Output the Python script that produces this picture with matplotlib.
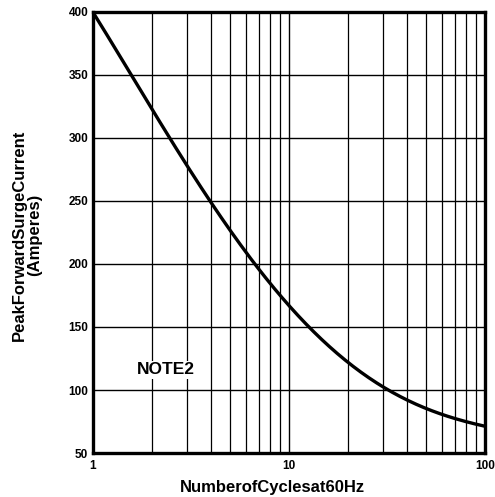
import numpy as np
import matplotlib.pyplot as plt

plt.rcParams['font.family'] = ['Liberation Sans', 'DejaVu Sans']
plt.rcParams['font.weight'] = 'bold'

# points
cycles = [1, 1.56, 2.44, 4.0, 6.7, 10, 12.1, 20, 32, 50, 100]
current = [400, 350, 300, 250, 200, 169, 150, 122, 100, 86, 71]

y_ticks = [50, 100, 150, 200, 250, 300, 350, 400]
x_ticks = [1, 10, 100]
x_tick_labels = ['1', '10', '100']

fig = plt.figure(figsize=(4.95, 4.97), dpi=100)
ax = fig.add_axes([0.188, 0.0885, 0.792, 0.8875])

# smooth curve in log space
lx = np.log10(cycles)
fine = np.linspace(0, 2, 200)
coef = np.polyfit(lx, current, 4)
ax.plot(10 ** fine, np.polyval(coef, fine), color='black', lw=2.4, zorder=3)

ax.set_xscale('log')
ax.set_xlim(1, 100)
ax.set_ylim(50, 400)
ax.set_yticks(y_ticks)
ax.set_xticks(x_ticks)
ax.set_xticklabels(x_tick_labels)
ax.tick_params(axis='y', length=0, labelsize=8.5, pad=3.5)
ax.tick_params(axis='x', length=0, labelsize=8.5, pad=5)
for lab in ax.get_xticklabels() + ax.get_yticklabels():
    lab.set_fontweight('bold')

ax.grid(True, which='major', color='black', lw=1.0)
ax.grid(True, which='minor', axis='x', color='black', lw=0.9)
ax.xaxis.set_minor_formatter(plt.NullFormatter())
ax.tick_params(which='minor', length=0)
for s in ax.spines.values():
    s.set_linewidth(2.4)

ax.text(2.36, 116, 'NOTE2', fontsize=12.5, fontweight='bold', ha='center', va='center',
        bbox=dict(facecolor='white', edgecolor='none', pad=1), zorder=2)

ax.text(0.457, -0.079, 'NumberofCyclesat60Hz', transform=ax.transAxes,
        fontsize=12, fontweight='bold', ha='center', va='center')
ax.text(-0.168, 0.494, 'PeakForwardSurgeCurrent\n(Amperes)', transform=ax.transAxes,
        fontsize=12, fontweight='bold', ha='center', va='center', rotation=90,
        multialignment='center', linespacing=1.0)

fig.savefig('out.png', dpi=100)
